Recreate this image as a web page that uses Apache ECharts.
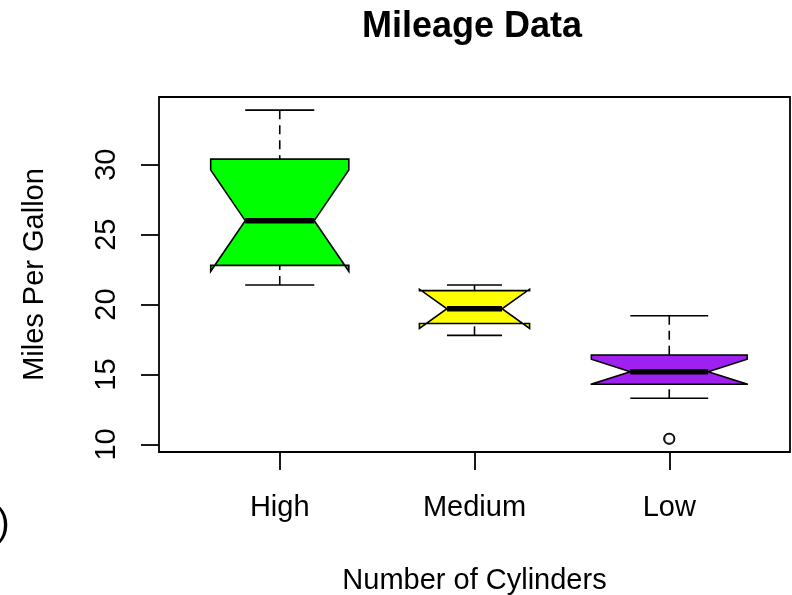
<!DOCTYPE html>
<html>
<head>
<meta charset="utf-8">
<script src="https://cdn.jsdelivr.net/npm/echarts@6/dist/echarts.min.js"></script>
<style>
html,body{margin:0;padding:0;background:#fff;}
#chart{width:792px;height:595px;}
</style>
</head>
<body>
<div id="chart"></div>
<script>
// ---- data ----
const categories = ['High', 'Medium', 'Low'];
const groupCounts = [11, 7, 14];
const lowerWhisker = [21.4, 17.8, 13.3];
const lowerHinge = [22.8, 18.65, 14.3];
const medians = [26.0, 19.7, 15.2];
const upperHinge = [30.4, 21.0, 16.4];
const upperWhisker = [33.9, 21.4, 19.2];
const notchLow = [22.38, 18.30, 14.31];
const notchHigh = [29.62, 21.10, 16.09];
const outlierValues = [[], [], [10.4, 10.4]];
const yTickValues = [10, 15, 20, 25, 30];
const xTickValues = [1, 2, 3];
const boxColors = ['#00FF00', '#FFFF00', '#A020F0'];

const FONT = 'Liberation Sans, Arial, Helvetica, sans-serif';
const maxCount = Math.max.apply(null, groupCounts);

const boxData = categories.map((c, i) => [
  i + 1, lowerWhisker[i], lowerHinge[i], notchLow[i], medians[i],
  notchHigh[i], upperHinge[i], upperWhisker[i], groupCounts[i]
]);
const outlierData = [];
outlierValues.forEach((arr, i) => arr.forEach(v => outlierData.push([i + 1, v])));

function renderBox(params, api) {
  const x = api.value(0);
  const lw = api.value(1), q1 = api.value(2), nlo = api.value(3), med = api.value(4),
        nhi = api.value(5), q3 = api.value(6), uw = api.value(7), n = api.value(8);
  const hw = 0.4 * Math.sqrt(n) / Math.sqrt(maxCount);
  const P = (dx, v) => api.coord([x + dx, v]);
  const color = boxColors[params.dataIndex];
  const lineStyle = { stroke: '#000', lineWidth: 1.6 };
  const seg = (a, b, extra) => ({
    type: 'line',
    shape: { x1: a[0], y1: a[1], x2: b[0], y2: b[1] },
    style: Object.assign({}, lineStyle, extra || {})
  });
  const pts = [
    P(-hw, q1), P(hw, q1), P(hw, nlo), P(hw / 2, med), P(hw, nhi),
    P(hw, q3), P(-hw, q3), P(-hw, nhi), P(-hw / 2, med), P(-hw, nlo)
  ];
  return {
    type: 'group',
    children: [
      seg(P(0, lw), P(0, q1), { lineDash: [9, 6] }),
      seg(P(0, uw), P(0, q3), { lineDash: [9, 6] }),
      seg(P(-hw / 2, lw), P(hw / 2, lw)),
      seg(P(-hw / 2, uw), P(hw / 2, uw)),
      { type: 'polygon', shape: { points: pts },
        style: { fill: color, stroke: '#000', lineWidth: 1.6 } },
      seg(P(-hw / 2, med), P(hw / 2, med), { lineWidth: 5.5 })
    ]
  };
}

const chart = echarts.init(document.getElementById('chart'), null, { renderer: 'canvas' });
chart.setOption({
  animation: false,
  backgroundColor: '#fff',
  title: {
    text: 'Mileage Data',
    left: 467,
    top: 4,
    textAlign: 'center',
    textStyle: { fontFamily: FONT, fontSize: 36, fontWeight: 'bold', color: '#000', lineHeight: 36 }
  },
  grid: {
    left: 159, top: 97, right: 2, bottom: 143,
    show: true, borderColor: '#000', borderWidth: 1.8,
    outerBoundsMode: 'none', containLabel: false
  },
  xAxis: {
    type: 'value',
    min: 0.38, max: 3.62,
    axisLine: { show: false },
    splitLine: { show: false },
    axisTick: { show: true, length: 18, customValues: xTickValues,
      lineStyle: { color: '#000', width: 1.8 } },
    axisLabel: {
      customValues: xTickValues,
      formatter: v => categories[Math.round(v) - 1] || '',
      margin: 41, fontFamily: FONT, fontSize: 29, lineHeight: 29, color: '#000'
    },
    name: 'Number of Cylinders',
    nameLocation: 'middle',
    nameGap: 114,
    nameTextStyle: { fontFamily: FONT, fontSize: 29, lineHeight: 29, color: '#000' }
  },
  yAxis: {
    type: 'value',
    min: 9.46, max: 34.84,
    axisLine: { show: false },
    splitLine: { show: false },
    axisTick: { show: true, length: 18, customValues: yTickValues,
      lineStyle: { color: '#000', width: 1.8 } },
    axisLabel: {
      customValues: yTickValues,
      rotate: 90,
      margin: 38, fontFamily: FONT, fontSize: 29, lineHeight: 29, color: '#000'
    },
    name: 'Miles Per Gallon',
    nameLocation: 'middle',
    nameGap: 110,
    nameTextStyle: { fontFamily: FONT, fontSize: 29, lineHeight: 29, color: '#000' }
  },
  graphic: [{
    type: 'text', x: -3, y: 525,
    style: { text: ')', fontFamily: FONT, fontSize: 38, verticalAlign: 'middle', fill: '#000' }
  }],
  series: [
    {
      type: 'custom',
      renderItem: renderBox,
      data: boxData,
      encode: { x: 0, y: [1, 2, 3, 4, 5, 6, 7] },
      clip: false,
      z: 2
    },
    {
      type: 'scatter',
      data: outlierData,
      symbol: 'emptyCircle',
      symbolSize: 10,
      itemStyle: { color: '#000', borderColor: '#000', borderWidth: 1.5 },
      z: 3
    }
  ]
});
</script>
</body>
</html>
